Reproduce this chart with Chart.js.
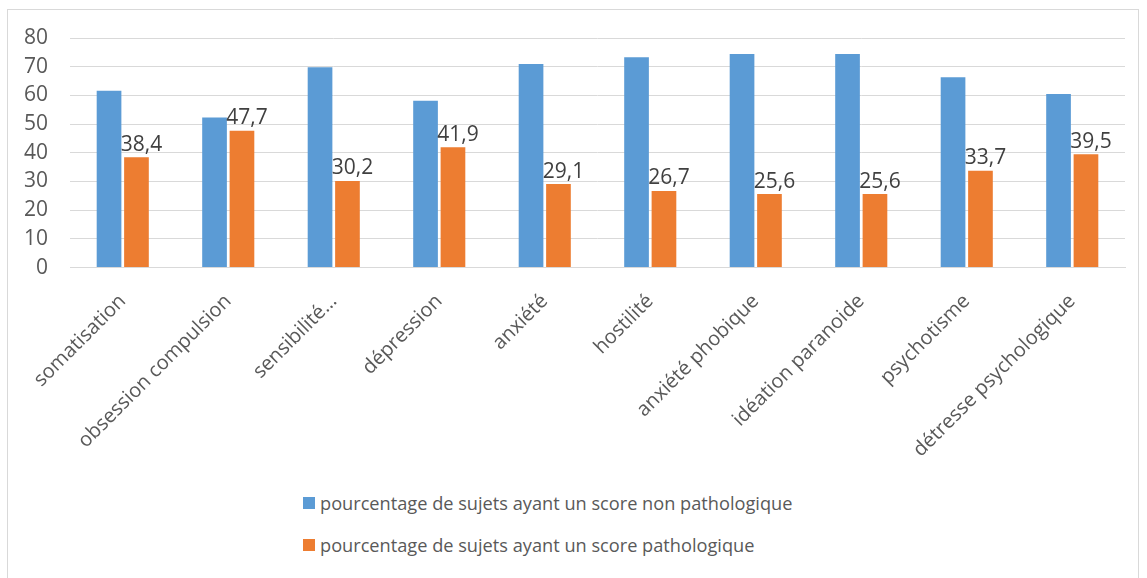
<!DOCTYPE html>
<html>
<head>
<meta charset="utf-8">
<script src="https://cdn.jsdelivr.net/npm/chart.js@4.4.1/dist/chart.umd.min.js"></script>
<style>
  html, body { margin: 0; padding: 0; background: #fff; }
  body { width: 1147px; height: 578px; position: relative; overflow: hidden; font-family: "Open Sans", sans-serif; }
  #frame { position: absolute; left: 7px; top: 9px; width: 1132px; height: 600px; border: 1px solid #d9d9d9; box-sizing: border-box; }
  #wrap { position: absolute; left: 0; top: 0; width: 1147px; height: 480px; }
  #legend { position: absolute; left: 303px; top: 491px; color: #595959; font-size: 18.2px; }
  #legend div { display: flex; align-items: center; height: 24px; margin-bottom: 18px; }
  #legend span.box { display: inline-block; width: 12px; height: 12px; margin-right: 5px; }
</style>
</head>
<body>
<div id="frame"></div>
<div id="wrap"><canvas id="chart"></canvas></div>
<div id="legend"></div>
<script>
const categories = ['somatisation', 'obsession compulsion', 'sensibilité…', 'dépression', 'anxiété',
  'hostilité', 'anxiété phobique', 'idéation paranoide', 'psychotisme', 'détresse psychologique'];
const nonPathologique = [61.6, 52.3, 69.8, 58.1, 70.9, 73.3, 74.4, 74.4, 66.3, 60.5];
const pathologique = [38.4, 47.7, 30.2, 41.9, 29.1, 26.7, 25.6, 25.6, 33.7, 39.5];
const seriesLabels = ['pourcentage de sujets ayant un score non pathologique',
  'pourcentage de sujets ayant un score pathologique'];
const yTicks = [0, 10, 20, 30, 40, 50, 60, 70, 80];

const FONT = '"Open Sans", sans-serif';

// value labels above the orange bars only
const barLabels = {
  id: 'barLabels',
  afterDatasetsDraw(chart){
    const ctx = chart.ctx;
    const meta = chart.getDatasetMeta(1);
    ctx.save();
    ctx.font = '21px ' + FONT;
    ctx.fillStyle = '#404040';
    ctx.textAlign = 'center';
    ctx.textBaseline = 'bottom';
    meta.data.forEach((bar, i)=>{
      ctx.fillText(pathologique[i].toFixed(1).replace('.', ','), bar.x + 5, bar.y - 2);
    });
    ctx.restore();
  }
};

const chart = new Chart(document.getElementById('chart'), {
  type: 'bar',
  data: {
    labels: categories,
    datasets: [
      { label: seriesLabels[0], data: nonPathologique, backgroundColor: '#5B9BD5' },
      { label: seriesLabels[1], data: pathologique, backgroundColor: '#ED7D31' }
    ]
  },
  options: {
    responsive: true,
    maintainAspectRatio: false,
    animation: false,
    layout: { padding: { top: 38, right: 22, left: 0, bottom: 4 } },
    datasets: { bar: { categoryPercentage: 0.52, barPercentage: 0.9 } },
    plugins: { legend: { display: false }, tooltip: { enabled: false } },
    scales: {
      x: {
        grid: { display: false },
        border: { color: '#d9d9d9' },
        ticks: { color: '#595959', font: { family: FONT, size: 20 }, minRotation: 45, maxRotation: 45, autoSkip: false, padding: 14 }
      },
      y: {
        min: 0, max: 80,
        afterBuildTicks: (scale)=>{ scale.ticks = yTicks.map(v=>({ value: v })); },
        afterFit: (scale)=>{ scale.width = 70; },
        grid: { color: '#d9d9d9', drawTicks: false },
        border: { display: false },
        ticks: { color: '#595959', font: { family: FONT, size: 21 }, padding: 22, autoSkip: false }
      }
    }
  },
  plugins: [barLabels]
});

// legend built from the chart's datasets
const legendEl = document.getElementById('legend');
chart.data.datasets.forEach(ds=>{
  const div = document.createElement('div');
  div.innerHTML = `<span class="box" style="background:${ds.backgroundColor}"></span>${ds.label}`;
  legendEl.appendChild(div);
});
</script>
</body>
</html>
